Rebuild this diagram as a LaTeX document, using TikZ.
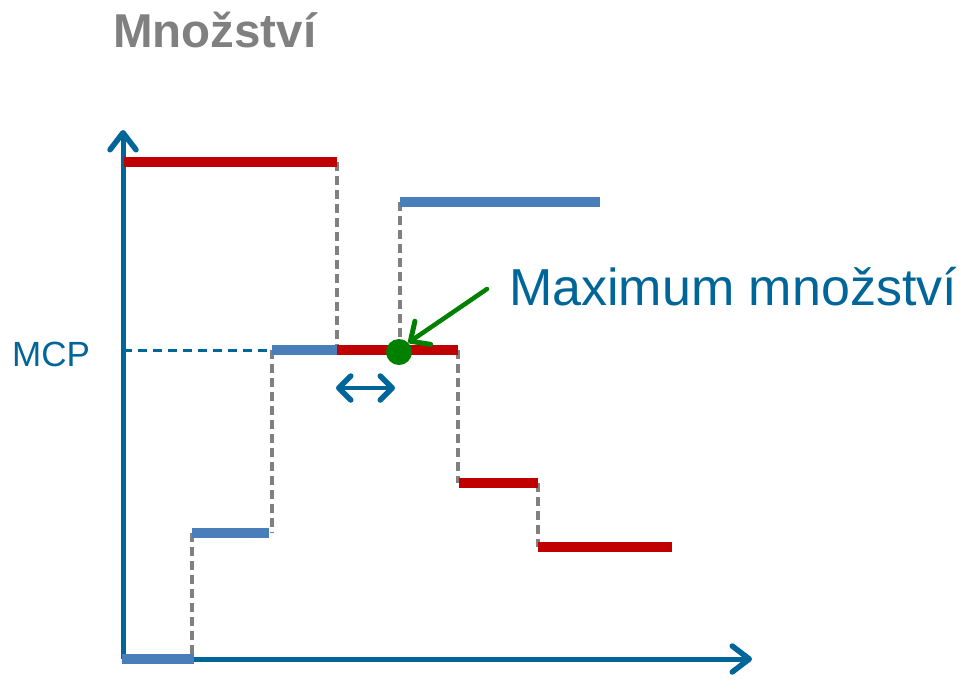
\documentclass[tikz,border=0pt]{standalone}
\usepackage{fontspec}
\setmainfont{Liberation Sans}
\usepackage{tikz}
\usetikzlibrary{arrows.meta,positioning}

\definecolor{axisblue}{RGB}{0,102,153}
\definecolor{stepblue}{RGB}{74,126,187}
\definecolor{stepred}{RGB}{192,0,0}
\definecolor{dotgreen}{RGB}{0,128,0}
\definecolor{guidegray}{RGB}{128,128,128}

\tikzset{
    axis/.style={draw=axisblue,line width=5pt,-{Straight Barb[length=17pt,width=26pt,line width=5.5pt,round]}},
    redstep/.style={draw=stepred,line width=10.5pt},
    bluestep/.style={draw=stepblue,line width=10.5pt},
    guide/.style={draw=guidegray,line width=4pt,dash pattern=on 9pt off 5pt},
    label/.style={inner sep=0pt,anchor=base west}
}

\begin{document}
\begin{tikzpicture}[x=1pt,y=-1pt]
        \useasboundingbox (0,0) rectangle (971,678);

        % texts
        \node (title) at (113,47) [label,text=guidegray,font=\fontsize{47.5}{52}\selectfont\bfseries] {Množství};
        \node (mcp) at (12,366) [label,text=axisblue,font=\fontsize{35}{40}\selectfont] {MCP};
        \node (maxtxt) at (509,305) [label,text=axisblue,font=\fontsize{52}{58}\selectfont] {Maximum množství};

        % axes
        \coordinate (o) at (123,659);
        \coordinate (ytip) at (123,130);
        \coordinate (xtip) at (752,659);
        \draw[axis] (o) -- (ytip);
        \draw[axis] (o) -- (xtip);

        % corners of the steps
        \coordinate (r1a) at (124,162);  \coordinate (r1b) at (337,162);
        \coordinate (r2a) at (337,350);  \coordinate (r2b) at (458,350);
        \coordinate (r3a) at (459,483);  \coordinate (r3b) at (538,483);
        \coordinate (r4a) at (538,547);  \coordinate (r4b) at (672,547);
        \coordinate (b1a) at (122,659);  \coordinate (b1b) at (194,659);
        \coordinate (b2a) at (192,533);  \coordinate (b2b) at (269,533);
        \coordinate (b3a) at (272,350);  \coordinate (b3b) at (337,350);
        \coordinate (b4a) at (400,202);  \coordinate (b4b) at (600,202);
        \coordinate (ymcp) at (123,350);

        % guides
        \draw[guide] (r1b) -- (r2a);
        \draw[guide] (b4a) -- (400,350);
        \draw[guide] (b3a) -- (272,533);
        \draw[guide] (b2a) -- (192,659);
        \draw[guide] (r2b) -- (458,483);
        \draw[guide] (r3b) -- (r4a);
        \draw[draw=axisblue,line width=3pt,dash pattern=on 9pt off 6pt] (ymcp) -- (b3a);

        % steps
        \draw[redstep] (r1a) -- (r1b);
        \draw[redstep] (r2a) -- (r2b);
        \draw[redstep] (r3a) -- (r3b);
        \draw[redstep] (r4a) -- (r4b);
        \draw[bluestep] (b1a) -- (b1b);
        \draw[bluestep] (b2a) -- (b2b);
        \draw[bluestep] (b3a) -- (b3b);
        \draw[bluestep] (b4a) -- (b4b);

        % maximum
        \node (dot) at (399,352) [shape=circle,fill=dotgreen,minimum size=26pt,inner sep=0pt] {};
        \coordinate (gtail) at (487,289);
        \draw[draw=dotgreen,line width=4.5pt,line cap=round,-{Straight Barb[length=15pt,width=28pt,line width=5pt,round]}] (gtail) -- (dot.north east);

        \coordinate (da) at (336,388);
        \coordinate (db) at (395,388);
        \draw[draw=axisblue,line width=4.5pt,{Straight Barb[length=12pt,width=24pt,line width=5.5pt,round]}-{Straight Barb[length=12pt,width=24pt,line width=5.5pt,round]}] (da) -- (db);
    \end{tikzpicture}
\end{document}
